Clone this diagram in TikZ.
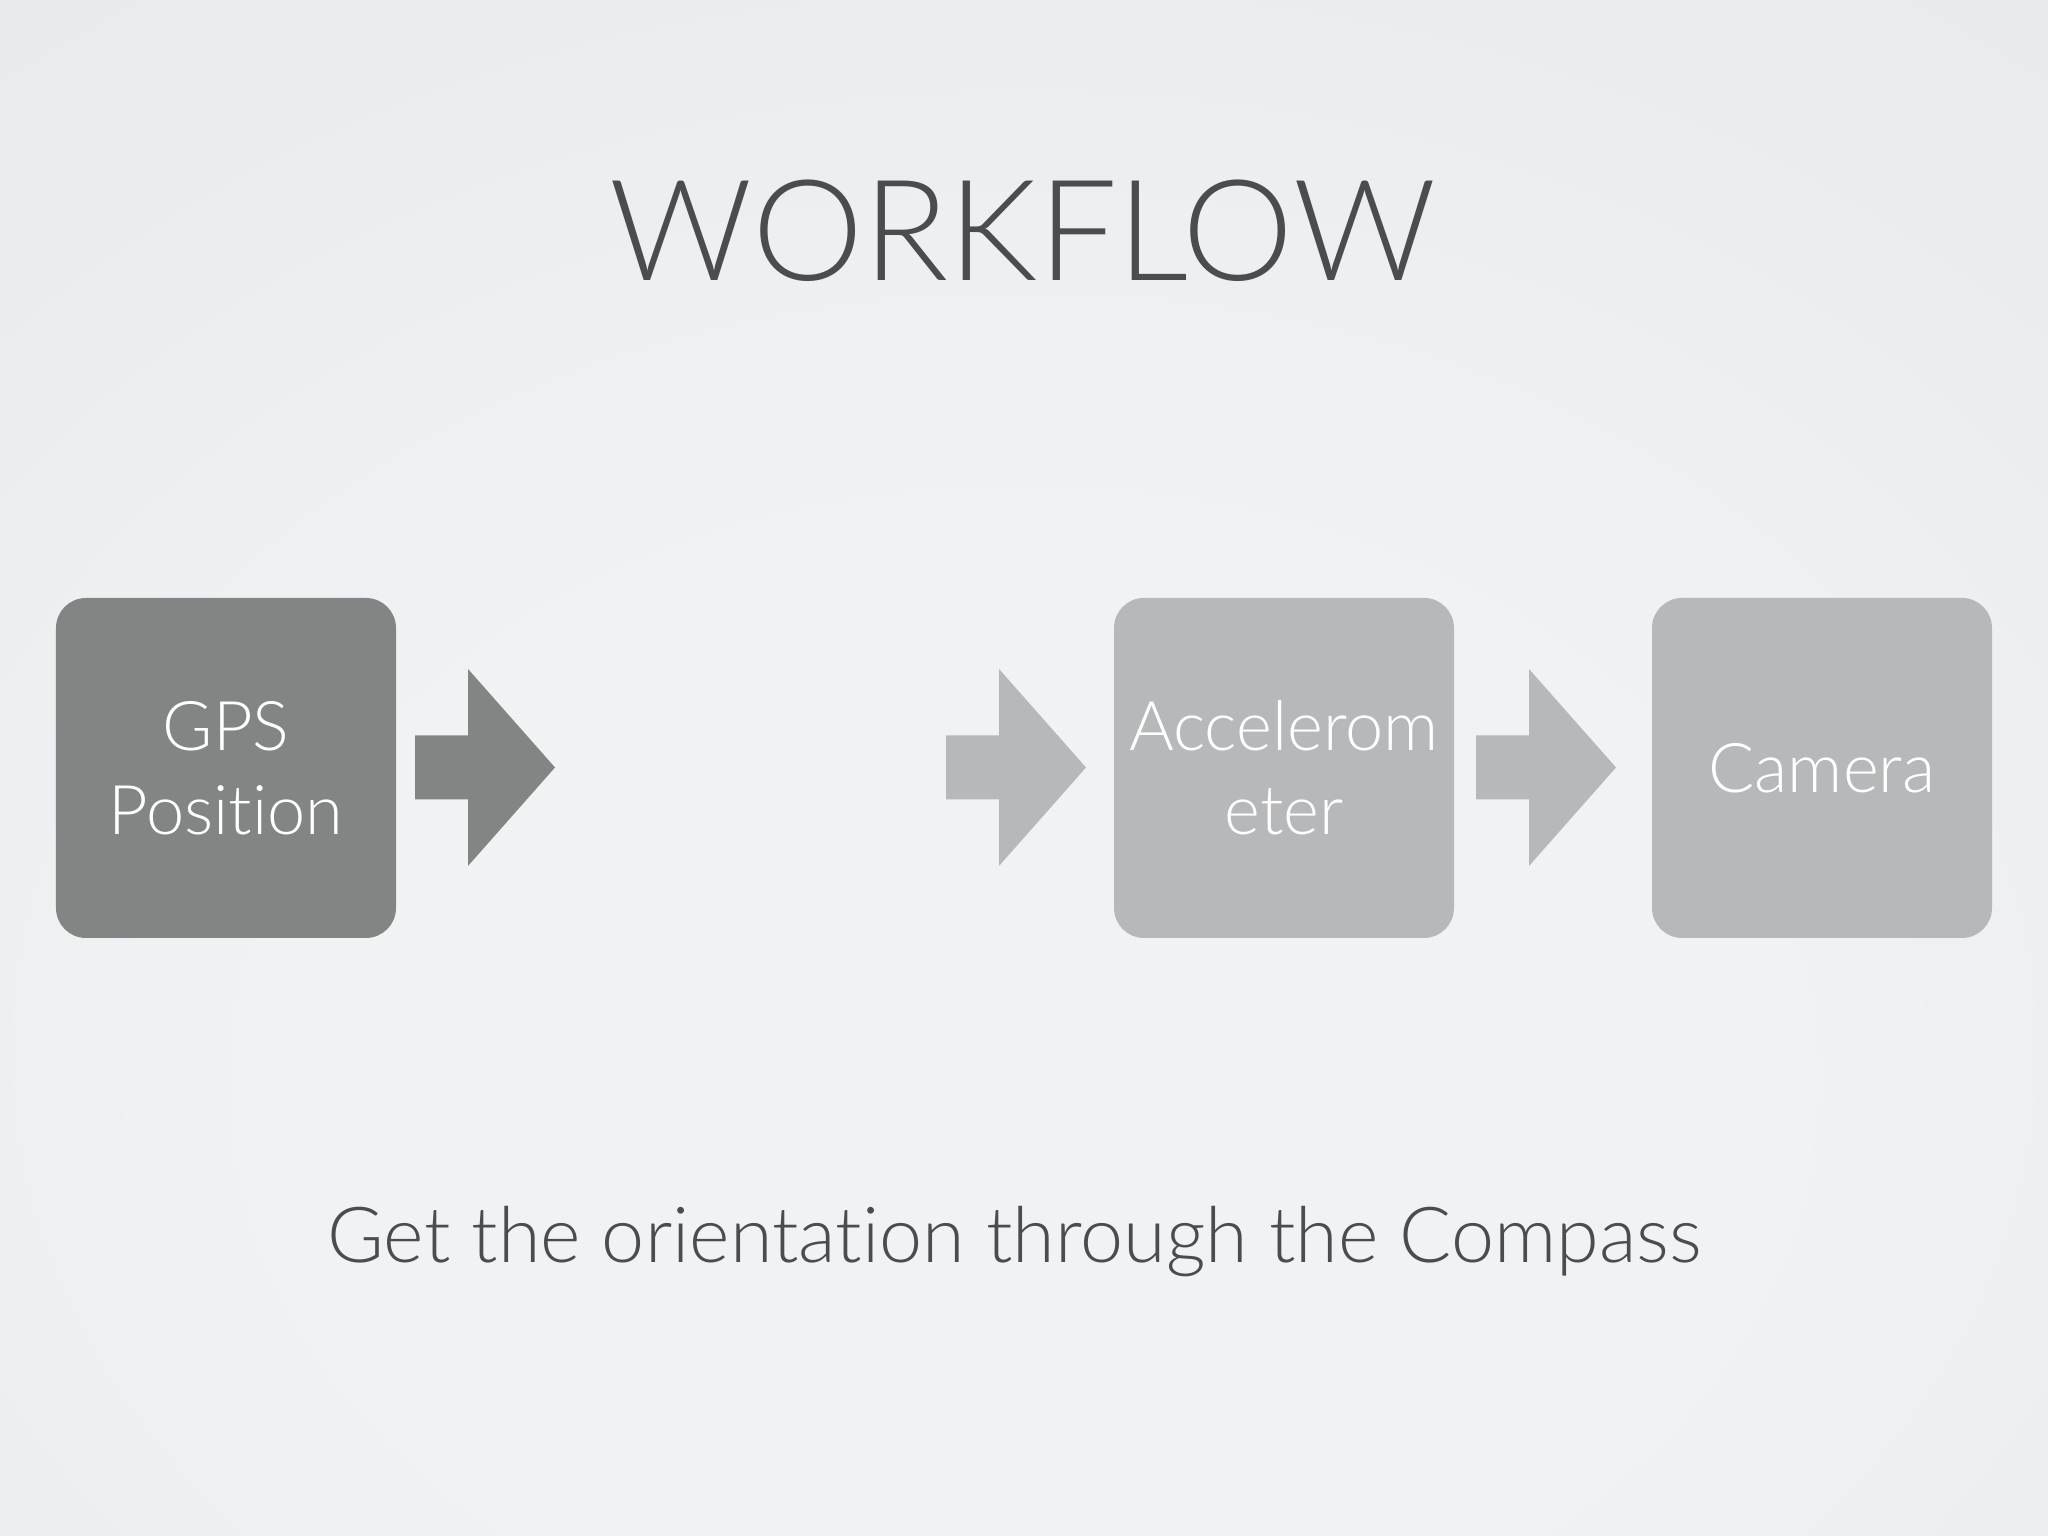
\documentclass[tikz,border=0pt]{standalone}
\usepackage{fontspec}
\setmainfont{Lato Light}[Ligatures=NoCommon]

\definecolor{slidein}{HTML}{F1F2F4}
\definecolor{slideout}{HTML}{DCDEE3}
\definecolor{inkgray}{HTML}{4B4C4F}
\definecolor{gpsgray}{HTML}{818584}
\definecolor{stepgray}{HTML}{B6B8BA}

\pgfdeclareradialshading{slidebg}{\pgfpoint{0bp}{-14bp}}{color(0bp)=(slidein); color(18bp)=(slidein); color(72bp)=(slideout)}

\begin{document}
\begin{tikzpicture}
  \useasboundingbox (0,0) rectangle (20.48,15.36);
  \shade[shading=slidebg] (0,0) rectangle (20.48,15.36);

  \node (title) at (10.23,12.55) [anchor=base,text=inkgray,font=\fontsize{40}{48}\selectfont] {WORKFLOW};

  \begin{scope}[every node/.style={rectangle,rounded corners=0.3cm,minimum size=3.4cm,inner sep=0pt,text=white,align=center,font=\fontsize{19.5}{24}\selectfont}]
    \node[fill=gpsgray] (gps) at (2.26,7.68) {GPS\\Position};
    \node[fill=stepgray] (accel) at (12.84,7.68) {Accelerom\\eter};
    \node[fill=stepgray] (camera) at (18.22,7.68) {Camera};
  \end{scope}

  % block arrows between the steps
  \foreach \x/\c in {4.15/gpsgray,9.46/stepgray,14.76/stepgray}
    \fill[\c] (\x,7.365) -- ++(0.53,0) -- ++(0,-0.665) -- ++(0.87,0.985)
      -- ++(-0.87,0.985) -- ++(0,-0.665) -- ++(-0.53,0) -- cycle;

  \node (note) at (10.145,2.73) [anchor=base,text=inkgray,font=\fontsize{22}{26}\selectfont] {Get the orientation through the Compass};
\end{tikzpicture}
\end{document}
